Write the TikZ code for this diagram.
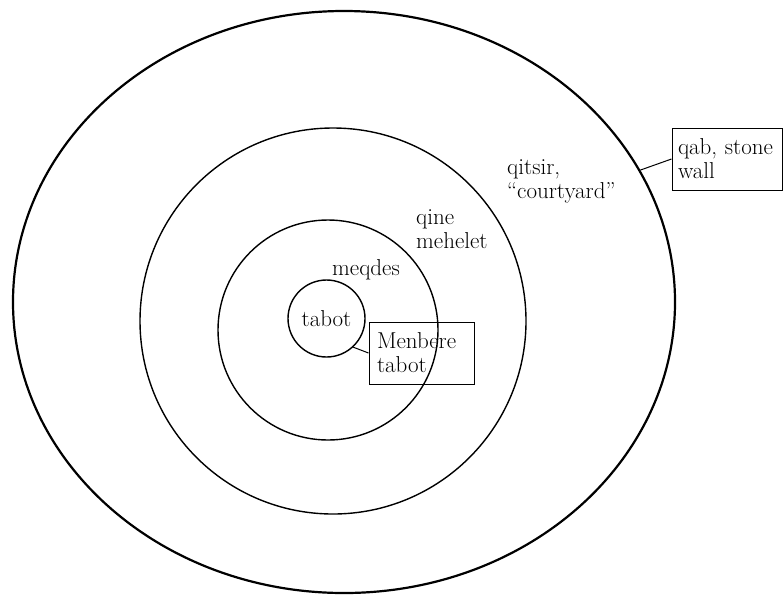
\documentclass[tikz,border=0pt]{standalone}
\usepackage{fontspec}
\usetikzlibrary{shapes.geometric}
\begin{document}
\begin{tikzpicture}
    [
    x=1pt, y=1pt,
    every node/.style={font=\fontsize{23}{24}\selectfont},
    ring/.style={circle,draw,line width=1.4pt,inner sep=0pt},
    tag/.style={draw,line width=1pt,align=left,inner ysep=0pt,minimum height=62pt},
    term/.style={anchor=base west,align=left,inner sep=0pt}
    ]
    \useasboundingbox (0,0) rectangle (783,-595);
    \node (wall) at (344,-302) [ellipse,draw,line width=2.2pt,inner sep=0pt,minimum width=662pt,minimum height=582pt] {};
    \node (mehelet) at (333,-321) [ring,minimum size=386pt] {};
    \node (meqdes) at (328,-330) [ring,minimum size=220pt] {};
    \node (tabot) at (326.5,-318.5) [ring,minimum size=77pt] {tabot};
    \node (qitsirlabel) at (507,-198) [term] {qitsir,\\“courtyard”};
    \node (qinelabel) at (416,-248) [term] {qine\\mehelet};
    \node (meqdeslabel) at (332,-275) [term] {meqdes};
    \node (menbere) at (421.5,-353) [tag,inner xsep=8pt,text width=89pt] {Menbere\\tabot};
    \node (qab) at (727,-159) [tag,inner xsep=6pt,text width=98pt] {qab, stone\\wall};
    \draw [line width=1pt] (tabot.-47) -- (menbere.west);
    \draw [line width=1pt] (wall.24.5) -- (qab.west);
  \end{tikzpicture}
\end{document}
